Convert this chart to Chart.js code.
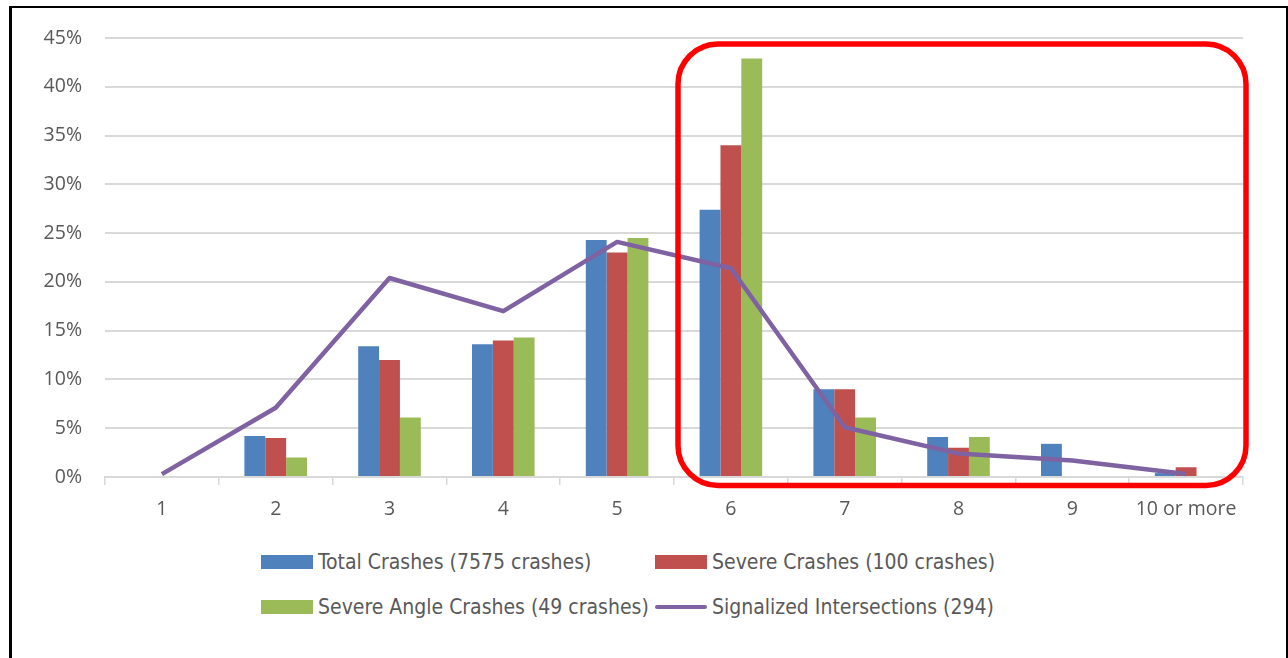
<!DOCTYPE html>
<html>
<head>
<meta charset="utf-8">
<script src="https://cdn.jsdelivr.net/npm/chart.js@4/dist/chart.umd.min.js"></script>
<style>
    html, body { margin: 0; padding: 0; background: #fff; }
    #page { position: relative; width: 1288px; height: 658px; overflow: hidden; }
    #frame {
        position: absolute; left: 9px; top: 6px; width: 1274px; height: 660px;
        border-left: 3px solid #000; border-top: 2px solid #000; border-right: 2px solid #000;
    }
    #wrap { position: absolute; left: 0; top: 0; width: 1288px; height: 530px; }
    #legend {
        position: absolute; left: 261px; top: 550px;
        display: grid; grid-template-columns: 394px 394px; row-gap: 21px;
        font-family: "Liberation Sans Narrow", "DejaVu Sans Condensed", "Liberation Sans", sans-serif;
        font-size: 21px; color: #595959;
    }
    .item { display: flex; align-items: center; height: 24px; white-space: nowrap; }
    .swatch { width: 52px; height: 14px; margin-right: 5px; flex: none; }
    .swatch.line { height: 4px; border-radius: 2px; }
</style>
</head>
<body>
<div id="page">
    <div id="frame"></div>
    <div id="wrap"><canvas id="crashChart"></canvas></div>
    <div id="legend"></div>
</div>
<script>
    const categories = ['1', '2', '3', '4', '5', '6', '7', '8', '9', '10 or more'];
    const totalCrashes = [0.1, 4.2, 13.4, 13.6, 24.3, 27.4, 9.0, 4.1, 3.4, 0.4];
    const severeCrashes = [0, 4, 12, 14, 23, 34, 9, 3, 0, 1];
    const severeAngleCrashes = [0, 2.0, 6.1, 14.3, 24.5, 42.9, 6.1, 4.1, 0, 0];
    const signalizedIntersections = [0.3, 7.1, 20.4, 17.0, 24.1, 21.4, 5.1, 2.4, 1.7, 0.3];
    const seriesLabels = [
        'Total Crashes (7575 crashes)',
        'Severe Crashes (100 crashes)',
        'Severe Angle Crashes (49 crashes)',
        'Signalized Intersections (294)'
    ];
    const seriesColors = ['#4F81BD', '#C0504D', '#9BBB59', '#7F62A1'];

    // rounded red box around categories 6 .. 10 or more
    const highlightBox = {
        id: 'highlightBox',
        afterDatasetsDraw(chart) {
            const x = chart.scales.x, y = chart.scales.y, ctx = chart.ctx;
            const left = (x.getPixelForValue(4) + x.getPixelForValue(5)) / 2 + 4;
            const right = chart.chartArea.right + 3;
            const top = y.getPixelForValue(45) + 6;
            const bottom = y.getPixelForValue(0) + 8.5;
            ctx.save();
            ctx.strokeStyle = '#FF0000';
            ctx.lineWidth = 5.5;
            ctx.beginPath();
            ctx.roundRect(left, top, right - left, bottom - top, 40);
            ctx.stroke();
            ctx.restore();
        }
    };

    function barSet(i, data) {
        return {
            type: 'bar',
            label: seriesLabels[i],
            data: data,
            backgroundColor: seriesColors[i],
            categoryPercentage: 0.55,
            barPercentage: 1.0,
            order: 1
        };
    }

    const ctx = document.getElementById('crashChart').getContext('2d');
    new Chart(ctx, {
        data: {
            labels: categories,
            datasets: [
                barSet(0, totalCrashes),
                barSet(1, severeCrashes),
                barSet(2, severeAngleCrashes),
                {
                    type: 'line',
                    label: seriesLabels[3],
                    data: signalizedIntersections,
                    borderColor: seriesColors[3],
                    borderWidth: 4.5,
                    pointRadius: 0,
                    tension: 0,
                    borderJoinStyle: 'round',
                    order: 0
                }
            ]
        },
        options: {
            responsive: true,
            maintainAspectRatio: false,
            animation: false,
            layout: { padding: { top: 38, right: 45, left: 0, bottom: 0 } },
            plugins: {
                legend: { display: false },
                tooltip: { enabled: false }
            },
            scales: {
                x: {
                    grid: {
                        offset: true,
                        drawOnChartArea: false,
                        drawTicks: true,
                        tickLength: 8,
                        color: '#D9D9D9',
                        lineWidth: 1.5
                    },
                    border: { color: '#D9D9D9', width: 2 },
                    ticks: {
                        color: '#595959',
                        padding: 13,
                        font: { family: 'Open Sans', size: 19.5 }
                    },
                    afterFit(scale) { scale.height = 53; }
                },
                y: {
                    min: 0,
                    max: 45,
                    grid: { color: '#D9D9D9', lineWidth: 2, drawTicks: false },
                    border: { display: false },
                    ticks: {
                        stepSize: 5,
                        padding: 23,
                        color: '#595959',
                        font: { family: 'Open Sans', size: 19.5 },
                        callback: v => v + '%'
                    },
                    afterFit(scale) { scale.width = 105; }
                }
            }
        },
        plugins: [highlightBox]
    });

    // legend, two columns like the original
    const legend = document.getElementById('legend');
    seriesLabels.forEach((text, i) => {
        const item = document.createElement('div');
        item.className = 'item';
        const sw = document.createElement('span');
        sw.className = 'swatch' + (i === 3 ? ' line' : '');
        sw.style.background = seriesColors[i];
        const label = document.createElement('span');
        label.textContent = text;
        item.appendChild(sw);
        item.appendChild(label);
        legend.appendChild(item);
    });
</script>
</body>
</html>
